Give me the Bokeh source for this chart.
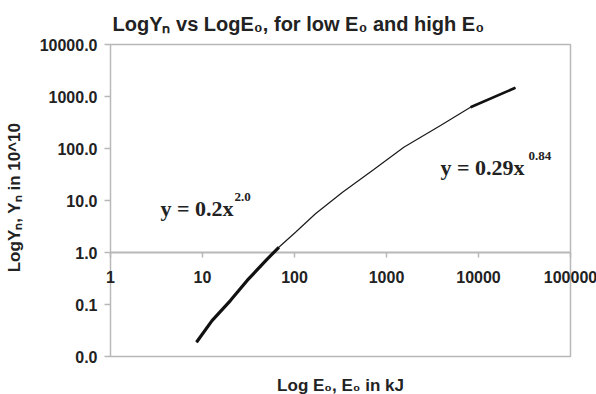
from bokeh.plotting import figure
from bokeh.models import FixedTicker, CustomJSTickFormatter
from bokeh.core.properties import value
from bokeh.embed import file_html
from bokeh.resources import INLINE
import math

# ---- data ----
e0 = [8.6, 12.7, 20.1, 30.6, 50.5, 67.6, 102.6, 169, 330, 728, 1542, 3865, 8185, 25200]
yn = [0.0188, 0.049, 0.119, 0.29, 0.746, 1.26, 2.45, 5.55, 14.3, 39.5, 106, 277, 623, 1470]
low_n = 6      # first points drawn thick (low E0 region)
high_from = 12 # last points drawn thick (high E0 region)

x_ticks = [1, 10, 100, 1000, 10000, 100000]
x_tick_labels = ["1", "10", "100", "1000", "10000", "100000"]
y_ticks = [0.01, 0.1, 1, 10, 100, 1000, 10000]

title_text = "LogY\u2099 vs LogE\u2080, for low E\u2080 and high E\u2080"
y_title = "LogY\u2099, Y\u2099 in 10^10"
x_title = "Log E\u2080, E\u2080 in kJ"

GRAY = "#b8b8b8"
TXT = "#222222"
SANS = "Liberation Sans"
SERIF = "Liberation Serif"

# The frame is larger than the plotted box (drawn as a quad), so that edge
# tick labels and the titles can be drawn as unclipped text.
XDEC = 92.0   # px per decade along x
YDEC = 52.0   # px per decade along y
x_lo, x_hi = x_ticks[0], x_ticks[-1]
y_lo, y_hi = y_ticks[0], y_ticks[-1]

p = figure(width=596, height=394, x_axis_type="log", y_axis_type="log",
           x_range=(x_lo * 10 ** (-6 / XDEC), x_hi * 10 ** (26 / XDEC)),
           y_range=(y_lo * 10 ** (-38 / YDEC), y_hi * 10 ** (44 / YDEC)),
           output_backend="svg", toolbar_location=None,
           x_axis_location=None,
           min_border_left=104, min_border_right=0,
           min_border_top=0, min_border_bottom=0)

p.xgrid.visible = False
p.ygrid.visible = False
p.outline_line_color = None
p.background_fill_color = "white"
p.border_fill_color = "white"

ax = p.yaxis[0]
ax.ticker = FixedTicker(ticks=y_ticks)
ax.formatter = CustomJSTickFormatter(code="return tick.toFixed(1);")
ax.axis_line_color = None
ax.major_tick_line_color = GRAY
ax.major_tick_line_width = 1.5
ax.major_tick_out = 0
ax.major_tick_in = 6
ax.minor_tick_line_color = None
ax.major_label_standoff = 7
ax.major_label_text_font = SANS
ax.major_label_text_font_style = "bold"
ax.major_label_text_font_size = "16px"
ax.major_label_text_color = TXT
ax.axis_label = y_title
ax.axis_label_standoff = 13
ax.axis_label_text_font = SANS
ax.axis_label_text_font_style = "bold"
ax.axis_label_text_font_size = "17px"
ax.axis_label_text_color = TXT

# plot box
p.quad(left=[x_lo], right=[x_hi], bottom=[y_lo], top=[y_hi],
       fill_color=None, line_color=GRAY, line_width=1.5)

# x axis drawn along y = 1
p.line([x_lo, x_hi], [1, 1], line_color=GRAY, line_width=2)
p.ray(x=x_ticks, y=[1] * len(x_ticks), length=5, length_units="screen",
      angle=-math.pi / 2, line_color=GRAY, line_width=1.5)
p.text(x=x_ticks, y=[1] * len(x_ticks), text=x_tick_labels,
       text_align="center", text_baseline="top", y_offset=18,
       text_font=value(SANS), text_font_style="bold", text_font_size="16px",
       text_color=TXT)

# curve
p.line(e0, yn, line_color="#1a1a1a", line_width=1.2)
p.line(e0[:low_n], yn[:low_n], line_color="#111111", line_width=3.2)
p.line(e0[high_from:], yn[high_from:], line_color="#111111", line_width=2.6)

# equations
p.text(x=[3.5], y=[7.0], text=["y = 0.2x"], text_align="left", text_baseline="alphabetic",
       text_font=value(SERIF), text_font_style="bold", text_font_size="22px", text_color=TXT)
p.text(x=[22.3], y=[11.6], text=["2.0"], text_align="left", text_baseline="alphabetic",
       text_font=value(SERIF), text_font_style="bold", text_font_size="13px", text_color=TXT)
p.text(x=[3864], y=[43.7], text=["y = 0.29x"], text_align="left", text_baseline="alphabetic",
       text_font=value(SERIF), text_font_style="bold", text_font_size="22px", text_color=TXT)
p.text(x=[34900], y=[73.3], text=["0.84"], text_align="left", text_baseline="alphabetic",
       text_font=value(SERIF), text_font_style="bold", text_font_size="13px", text_color=TXT)

# chart title (above the box, left-aligned with it)
p.text(x=[x_lo], y=[y_hi], text=[title_text], text_align="left", text_baseline="alphabetic",
       x_offset=2, y_offset=-21,
       text_font=value(SANS), text_font_style="bold", text_font_size="20px", text_color=TXT)

# x title below the box (cut by the bottom edge, as in the reference)
p.text(x=[math.sqrt(x_lo * x_hi)], y=[y_lo], text=[x_title], text_align="center",
       text_baseline="top", x_offset=0, y_offset=19,
       text_font=value(SANS), text_font_style="bold", text_font_size="17px", text_color=TXT)

open("out.html", "w").write(file_html(p, INLINE))
